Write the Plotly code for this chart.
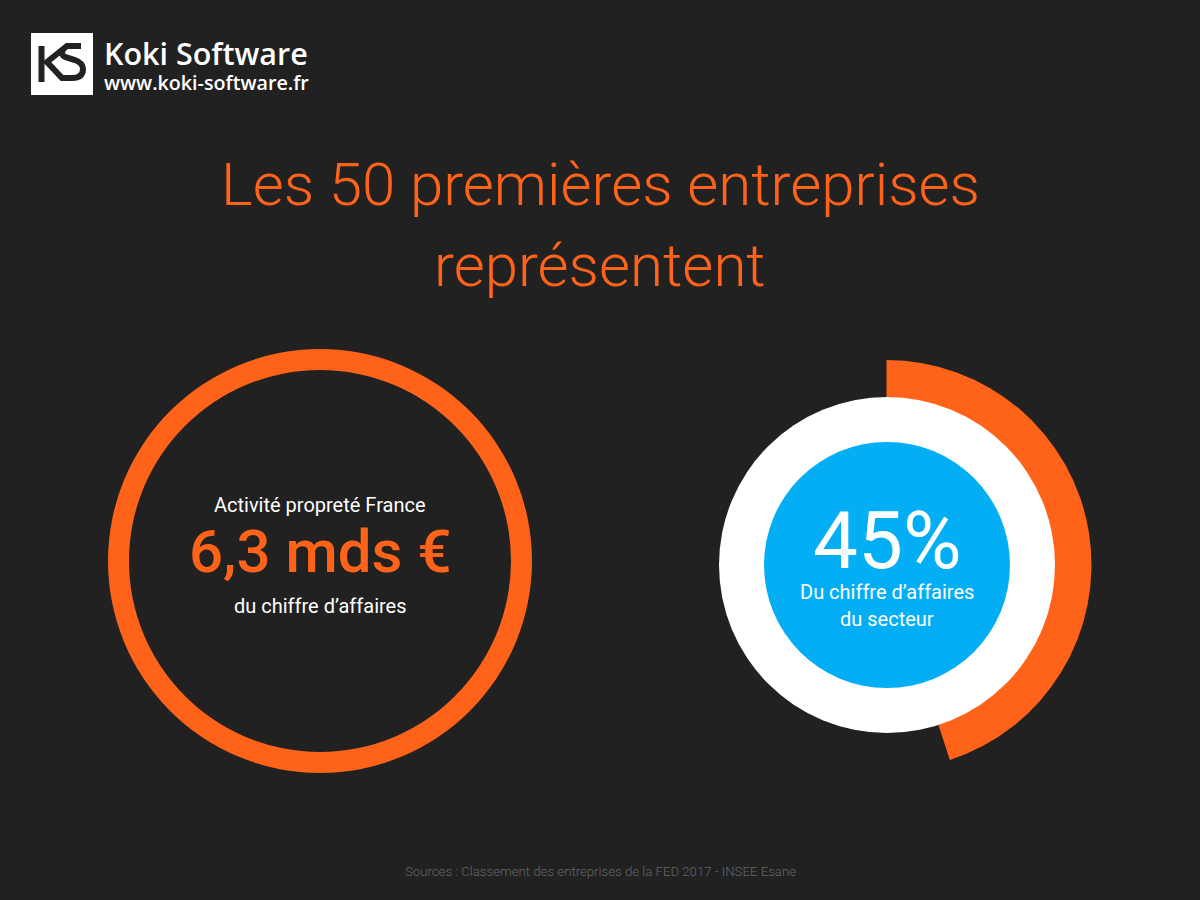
import plotly.graph_objects as go

# chart values
share_labels = ["Top 50", "Autres"]
share_values = [45, 55]
total_labels = ["Activité propreté France"]
total_values = [6.3]

ORANGE = "#FF631A"
BLUE = "#03AEF4"
BG = "#212121"
W, H = 1200, 900


def px_x(x):
    return x / W


def px_y(y):
    return 1 - y / H


def disc(cx, cy, r):
    """Pie domain for a circle given in pixels"""
    return dict(x=[px_x(cx - r), px_x(cx + r)], y=[px_y(cy + r), px_y(cy - r)])


def label(fig, text, x, y, size, color="#FFFFFF", family="Roboto", anchor="center", weight=400):
    fig.add_annotation(
        text=text, x=px_x(x), y=px_y(y), xref="paper", yref="paper",
        xanchor=anchor, yanchor="middle", showarrow=False,
        font=dict(family=family, size=size, color=color, weight=weight),
    )


fig = go.Figure()

# left ring
fig.add_trace(go.Pie(
    labels=total_labels, values=total_values, hole=191 / 212, sort=False,
    domain=disc(320, 561, 212), marker=dict(colors=[ORANGE], line=dict(width=0)),
    textinfo="none", showlegend=False,
))

# right arc, then white and blue discs on top
fig.add_trace(go.Pie(
    labels=share_labels, values=share_values, sort=False, direction="clockwise",
    rotation=0, domain=disc(886.5, 565, 205),
    marker=dict(colors=[ORANGE, "rgba(0,0,0,0)"], line=dict(width=0)),
    textinfo="none", showlegend=False,
))
fig.add_trace(go.Pie(
    labels=["Secteur"], values=[100], domain=disc(887, 565, 168),
    marker=dict(colors=["#FFFFFF"], line=dict(width=0)),
    textinfo="none", showlegend=False,
))
fig.add_trace(go.Pie(
    labels=["Part"], values=[100], domain=disc(887, 565, 123),
    marker=dict(colors=[BLUE], line=dict(width=0)),
    textinfo="none", showlegend=False,
))

# title
label(fig, "Les 50 premières entreprises", 600, 185, 60, ORANGE, "Roboto Light")
label(fig, "représentent", 600, 265, 60, ORANGE, "Roboto Light")

# left ring text
label(fig, "Activité propreté France", 320, 505, 20)
label(fig, "6,3 mds €", 320, 551, 60, ORANGE, weight=500)
label(fig, "du chiffre d’affaires", 320, 606, 20)

# right disc text
label(fig, "45%", 887, 541, 80)
label(fig, "Du chiffre d’affaires", 887, 592, 20)
label(fig, "du secteur", 887, 619, 20)

# logo
label(fig, "Koki Software", 102, 53, 30.5, "#FFFFFF", "Open Sans", "left", 600)
label(fig, "www.koki-software.fr", 102, 83, 19.7, "#FFFFFF", "Open Sans", "left", 600)
fig.add_shape(
    type="rect", xref="paper", yref="paper", x0=px_x(31), x1=px_x(93),
    y0=px_y(95), y1=px_y(33), fillcolor="#FFFFFF", line_width=0,
)


def logo_path(*segments):
    out = []
    for cmd, *pts in segments:
        coords = " ".join(f"{px_x(pts[i]):.5f},{px_y(pts[i + 1]):.5f}" for i in range(0, len(pts), 2))
        out.append(cmd + coords)
    return " ".join(out)


k_stem = logo_path(("M", 41.5, 46), ("L", 41.5, 82))
k_s = logo_path(
    ("M", 81, 46), ("L", 67, 46), ("L", 47, 62), ("L", 62, 78), ("L", 72, 78),
    ("Q", 83, 78, 83, 69), ("Q", 83, 63, 75, 60), ("L", 65, 57), ("Q", 58, 53, 67, 46),
)
for path in [k_stem, k_s]:
    fig.add_shape(
        type="path", path=path, xref="paper", yref="paper",
        line=dict(color="#222222", width=6),
    )

# source
label(fig, "Sources : Classement des entreprises de la FED 2017 - INSEE Esane", 600, 871, 13.2, "#666666", "Roboto Light")

fig.update_layout(
    width=W, height=H, margin=dict(l=0, r=0, t=0, b=0),
    paper_bgcolor=BG, plot_bgcolor=BG,
)

fig.write_html(
    "out.html", config={"displayModeBar": False},
    post_script="document.body.style.margin='0';document.body.style.background='#212121';",
)
